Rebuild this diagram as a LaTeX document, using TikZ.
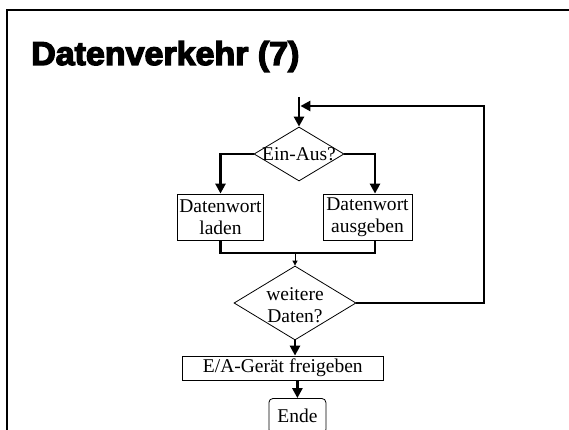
\documentclass[tikz,border=0pt]{standalone}
\usepackage{fontspec}
\setmainfont{Liberation Serif}
\newfontfamily\titlefont[BoldFeatures={FakeBold=4}]{Liberation Sans}
\usetikzlibrary{arrows.meta,shapes.geometric}

\newcommand\lblfont{\fontsize{19.5}{22.5}\selectfont}

\tikzset{
  flowline/.style={line width=2.8pt},
  flowarrow/.style={flowline, -{Triangle[length=10pt,width=10pt]}},
  thinarrow/.style={line width=0.8pt, -{Triangle[length=5pt,width=5pt]}},
  procbox/.style={draw, line width=0.8pt, inner sep=0pt, align=center, font=\lblfont},
  decision/.style={diamond, draw, line width=0.8pt, inner sep=0pt},
  lbl/.style={align=center, font=\lblfont, inner sep=0pt},
}

\begin{document}
\begin{tikzpicture}[x=1pt,y=-1pt]
  \useasboundingbox (0,0) rectangle (569,430);
  \clip (0,0) rectangle (569,430);

  % slide frame
  \draw[line width=2pt] (7,440) -- (7,10) -- (580,10);

  % heading
  \node[anchor=base west, inner sep=0pt,
        font=\titlefont\bfseries\fontsize{33}{36}\selectfont]
    (title) at (31,65) {\scalebox{1.03}[1]{Datenverkehr (7)}};

  % flow chart nodes
  \node[decision, minimum width=90pt, minimum height=54pt] (d1) at (299,154) {};
  \node[lbl] (d1t) at (d1.center) {Ein-Aus?};

  \node[procbox, minimum width=86pt, minimum height=46pt] (b1) at (220.5,217) {Datenwort\\laden};
  \node[procbox, minimum width=89pt, minimum height=46pt] (b2) at (367.5,217) {Datenwort\\ausgeben};

  \node[decision, minimum width=122pt, minimum height=74pt] (d2) at (295,303) {};
  \node[lbl] (d2t) at (295,305) {weitere\\Daten?};

  \node[procbox, minimum width=201pt, minimum height=24pt] (b3) at (282.8,368) {E/A-Gerät freigeben};
  \node[procbox, rounded corners=4pt, minimum width=57pt, minimum height=35pt] (e) at (297.4,416) {Ende};

  % helper points
  \coordinate (top) at (299,97);
  \coordinate (rx) at (375,0);
  \coordinate (merge) at (295,253);
  \coordinate (loop) at (484,106);

  % connectors
  \draw[flowarrow] (top) -- (d1.north);
  \draw[flowarrow] (d1.west) -| (b1.north);
  \draw[flowarrow] (d1.east) -| (b2.north -| rx);
  \draw[flowline] (b1.south) |- (merge -| rx) -- (b2.south -| rx);
  \draw[thinarrow] (merge) -- (d2.north);
  \draw[flowarrow] (d2.east) -| (loop) -- ([xshift=1.4pt]top |- loop);
  \draw[flowarrow] (d2.south) -- (d2.south |- b3.north);
  \draw[flowarrow] (e.north |- b3.south) -- (e.north);
\end{tikzpicture}
\end{document}
